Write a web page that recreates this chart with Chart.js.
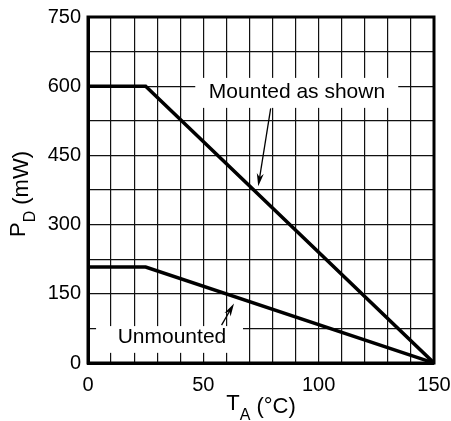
<!DOCTYPE html>
<html>
<head>
<meta charset="utf-8">
<script src="https://cdn.jsdelivr.net/npm/chart.js@4.4.1/dist/chart.umd.min.js"></script>
<style>
  html, body { margin: 0; padding: 0; background: #fff; }
</style>
</head>
<body>
<canvas id="chart" width="451" height="421"></canvas>
<script>
// ambient temperature (°C) and power dissipation (mW)
var tempA = [0, 25, 150];
var mountedPd = [600, 600, 0];
var unmountedPd = [208, 208, 0];
var xLabels = [0, 50, 100, 150];
var yLabels = [0, 150, 300, 450, 600, 750];

var FONT = '"Liberation Sans", Arial, Helvetica, sans-serif';

function toPoints(xs, ys) {
    return xs.map(function (x, i) { return { x: x, y: ys[i] }; });
}

// callouts: white box, text and leader arrow, all in data units
var callouts = [
    { text: 'Mounted as shown', box: [46.5, 134.5, 618, 553], at: [90.6, 588], from: [79.2, 552], to: [73.8, 383] },
    { text: 'Unmounted', box: [3.5, 67.2, 80, 22], at: [36.4, 55], from: [57.9, 82], to: [63.3, 129] }
];

var calloutPlugin = {
    id: 'callouts',
    beforeDatasetsDraw: function (chart) {
        var ctx = chart.ctx, xs = chart.scales.x, ys = chart.scales.y;
        ctx.save();
        ctx.fillStyle = '#fff';
        callouts.forEach(function (c) {
            var x1 = xs.getPixelForValue(c.box[0]), x2 = xs.getPixelForValue(c.box[1]);
            var y1 = ys.getPixelForValue(c.box[2]), y2 = ys.getPixelForValue(c.box[3]);
            ctx.fillRect(x1, y1, x2 - x1, y2 - y1);
        });
        ctx.fillStyle = '#000';
        ctx.font = '21px ' + FONT;
        ctx.textAlign = 'center';
        ctx.textBaseline = 'middle';
        callouts.forEach(function (c) {
            ctx.fillText(c.text, xs.getPixelForValue(c.at[0]), ys.getPixelForValue(c.at[1]));
        });
        ctx.restore();
    },
    afterDatasetsDraw: function (chart) {
        var ctx = chart.ctx, xs = chart.scales.x, ys = chart.scales.y, a = chart.chartArea;
        ctx.save();
        ctx.strokeStyle = '#000';
        ctx.fillStyle = '#000';
        callouts.forEach(function (c) {
            var x0 = xs.getPixelForValue(c.from[0]), y0 = ys.getPixelForValue(c.from[1]);
            var x1 = xs.getPixelForValue(c.to[0]), y1 = ys.getPixelForValue(c.to[1]);
            var ang = Math.atan2(y1 - y0, x1 - x0);
            var len = 13, half = 3.5;
            ctx.lineWidth = 1.3;
            ctx.beginPath();
            ctx.moveTo(x0, y0);
            ctx.lineTo(x1 - Math.cos(ang) * len * 0.6, y1 - Math.sin(ang) * len * 0.6);
            ctx.stroke();
            ctx.beginPath();
            ctx.moveTo(x1, y1);
            ctx.lineTo(x1 - Math.cos(ang) * len - Math.sin(ang) * half, y1 - Math.sin(ang) * len + Math.cos(ang) * half);
            ctx.lineTo(x1 - Math.cos(ang) * len * 0.7, y1 - Math.sin(ang) * len * 0.7);
            ctx.lineTo(x1 - Math.cos(ang) * len + Math.sin(ang) * half, y1 - Math.sin(ang) * len - Math.cos(ang) * half);
            ctx.closePath();
            ctx.fill();
        });
        // frame (top and right sides)
        ctx.lineWidth = 3;
        ctx.strokeRect(a.left, a.top, a.right - a.left, a.bottom - a.top);
        ctx.restore();
    },
    afterDraw: function (chart) {
        var ctx = chart.ctx, a = chart.chartArea;
        var big = '22px ' + FONT, small = '16px ' + FONT;
        ctx.save();
        ctx.fillStyle = '#000';
        ctx.textAlign = 'left';
        ctx.textBaseline = 'alphabetic';

        // x title: T_A (°C)
        ctx.font = big; var wT = ctx.measureText('T').width;
        ctx.font = small; var wA = ctx.measureText('A').width;
        ctx.font = big; var wU = ctx.measureText(' (°C)').width;
        var x = (a.left + a.right) / 2 - (wT + wA + wU) / 2;
        var base = 410;
        ctx.font = big; ctx.fillText('T', x, base);
        ctx.font = small; ctx.fillText('A', x + wT, base + 10);
        ctx.font = big; ctx.fillText(' (°C)', x + wT + wA, base + 3);

        // y title: P_D (mW)
        ctx.font = big; var wP = ctx.measureText('P').width;
        ctx.font = small; var wD = ctx.measureText('D').width;
        ctx.font = big; var wM = ctx.measureText(' (mW)').width;
        ctx.translate(25, 194);
        ctx.rotate(-Math.PI / 2);
        var s = -(wP + wD + wM) / 2;
        ctx.font = big; ctx.fillText('P', s, 0);
        ctx.font = small; ctx.fillText('D', s + wP, 10);
        ctx.font = big; ctx.fillText(' (mW)', s + wP + wD, 3);
        ctx.restore();
    }
};

new Chart(document.getElementById('chart'), {
    type: 'scatter',
    data: {
        datasets: [
            { label: 'Mounted as shown', data: toPoints(tempA, mountedPd) },
            { label: 'Unmounted', data: toPoints(tempA, unmountedPd) }
        ]
    },
    options: {
        responsive: false,
        animation: false,
        showLine: true,
        layout: { padding: { top: 17, right: 17, left: 0, bottom: 0 } },
        elements: {
            line: { borderColor: '#000', borderWidth: 3.5, tension: 0, borderCapStyle: 'butt' },
            point: { radius: 0, hoverRadius: 0 }
        },
        plugins: { legend: { display: false }, tooltip: { enabled: false } },
        scales: {
            x: {
                type: 'linear',
                min: 0, max: 150,
                afterFit: function (s) { s.height = 58; s.paddingLeft = 0; s.paddingRight = 0; },
                grid: { color: '#111', lineWidth: 1.2, drawTicks: false },
                border: { color: '#000', width: 3 },
                ticks: {
                    stepSize: 10, autoSkip: false, maxRotation: 0, padding: 10,
                    color: '#000', font: { family: FONT, size: 20 },
                    callback: function (v) { return xLabels.indexOf(v) >= 0 ? String(v) : ''; }
                }
            },
            y: {
                type: 'linear',
                min: 0, max: 750,
                afterFit: function (s) { s.width = 88; s.paddingTop = 0; s.paddingBottom = 0; },
                grid: { color: '#111', lineWidth: 1.2, drawTicks: false },
                border: { color: '#000', width: 3 },
                ticks: {
                    stepSize: 75, autoSkip: false, padding: 7,
                    color: '#000', font: { family: FONT, size: 20 },
                    callback: function (v) { return yLabels.indexOf(v) >= 0 ? String(v) : ''; }
                }
            }
        }
    },
    plugins: [calloutPlugin]
});
</script>
</body>
</html>
